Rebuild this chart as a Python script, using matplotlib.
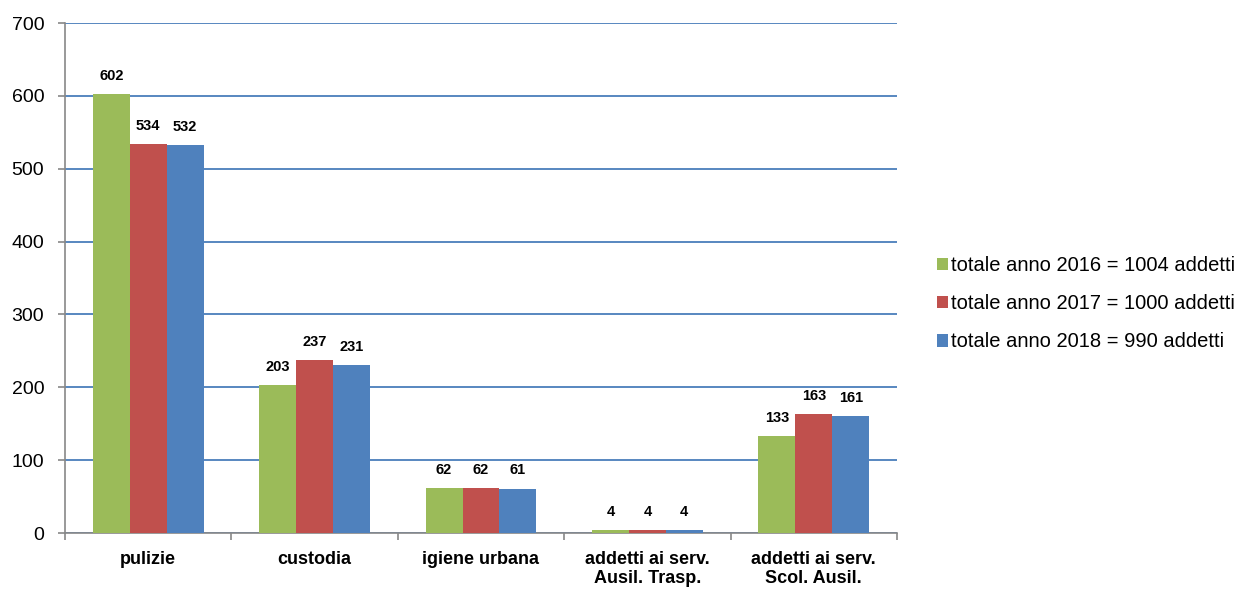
import matplotlib
matplotlib.use("Agg")
import matplotlib.pyplot as plt
import numpy as np

categories = ["pulizie", "custodia", "igiene urbana", "addetti ai serv.\nAusil. Trasp.", "addetti ai serv.\nScol. Ausil."]
series_labels = ["totale anno 2016 = 1004 addetti", "totale anno 2017 = 1000 addetti", "totale anno 2018 = 990 addetti"]
v2016 = [602, 203, 62, 4, 133]
v2017 = [534, 237, 62, 4, 163]
v2018 = [532, 231, 61, 4, 161]
yticks = [0, 100, 200, 300, 400, 500, 600, 700]

colors = ["#9BBB59", "#C0504D", "#4F81BD"]

plt.rcParams['font.family'] = ['Liberation Sans', 'DejaVu Sans']

fig = plt.figure(figsize=(12.54, 5.94), dpi=100)
ax = fig.add_axes([65/1254, 1-533/594, (897-65)/1254, (533-23)/594])

x = np.arange(len(categories))
w = 0.222
for i, (vals, c, lab) in enumerate(zip([v2016, v2017, v2018], colors, series_labels)):
    bars = ax.bar(x + (i-1)*w, vals, w, color=c, label=lab, zorder=3)
    for b, v in zip(bars, vals):
        ax.annotate(str(v), (b.get_x()+b.get_width()/2, v), xytext=(0, 8), textcoords='offset points',
                    ha='center', va='bottom', fontsize=10.5, fontweight='bold')

ax.set_xlim(-0.5, len(categories)-0.5)
ax.set_ylim(0, 700)
ax.set_yticks(yticks)
ax.set_yticklabels([str(t) for t in yticks], fontsize=14)
ax.yaxis.grid(True, color="#4A7EBB", linewidth=1.3, zorder=0)
ax.set_axisbelow(True)

ax.set_xticks(x)
ax.set_xticklabels(categories, fontsize=13, fontweight='bold', linespacing=1.12)
ax.set_xticks(np.arange(-0.5, len(categories)), minor=True)
ax.tick_params(axis='x', which='major', length=0, pad=13)
ax.tick_params(axis='x', which='minor', length=5, color='#888888', width=1.2)
ax.tick_params(axis='y', length=5, color='#888888', width=1.2, pad=10)

for s in ['top', 'right']:
    ax.spines[s].set_visible(False)
for s in ['left', 'bottom']:
    ax.spines[s].set_color('#888888')
    ax.spines[s].set_linewidth(1.2)

leg = fig.legend(loc='upper left', bbox_to_anchor=(927/1254, 1-246/594), frameon=False,
                 fontsize=14.5, handlelength=0.55, handleheight=0.6, handletextpad=0.15,
                 labelspacing=0.95, borderpad=0)

fig.savefig("out.png", dpi=100)
